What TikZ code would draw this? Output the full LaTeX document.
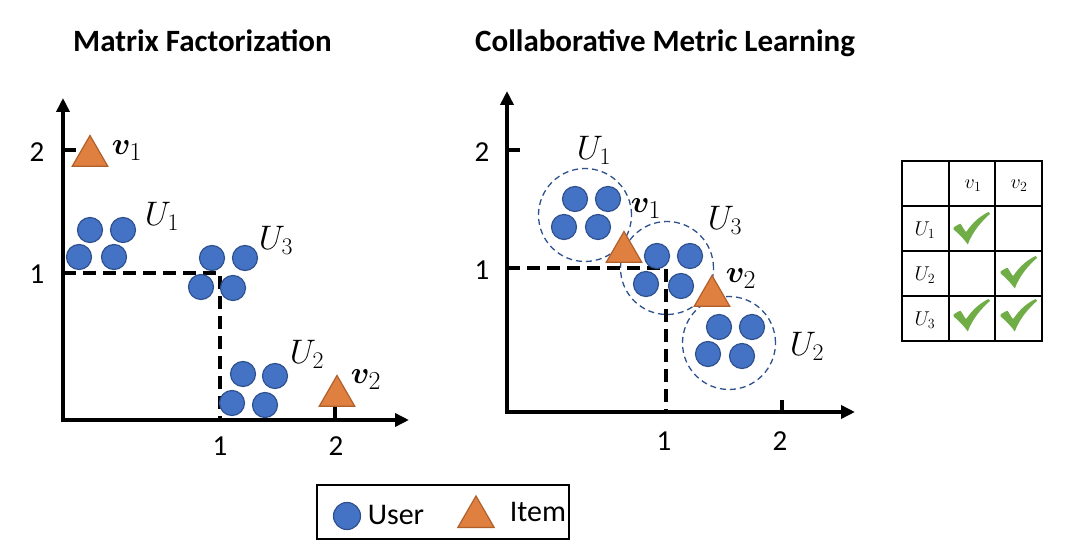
\RequirePackage{fix-cm}
\documentclass[tikz,border=0pt]{standalone}
\usepackage{amsmath}
\usepackage{bm}
\usepackage[no-math]{fontspec}
\setmainfont{Carlito}
\usetikzlibrary{arrows.meta,shapes.geometric}
\definecolor{userfill}{HTML}{4472C4}
\definecolor{userline}{HTML}{2F528F}
\definecolor{itemfill}{HTML}{E08040}
\definecolor{itemline}{HTML}{B0602A}
\definecolor{chkgreen}{HTML}{70AD47}
\tikzset{
  user/.style={circle, fill=userfill, draw=userline, line width=1.2pt, minimum size=25pt, inner sep=0pt},
  item/.style={regular polygon, regular polygon sides=3, fill=itemfill, draw=itemline, line width=1.2pt, minimum size=41pt, inner sep=0pt},
  axis/.style={line width=3.5pt, -{Triangle[length=14pt,width=13pt]}},
  tickmark/.style={line width=3.5pt},
  guide/.style={line width=3.5pt, dash pattern=on 13pt off 7pt},
  ring/.style={circle, draw=userline, line width=1.3pt, dash pattern=on 6pt off 4pt, minimum size=93pt, inner sep=0pt},
  ulab/.style={inner sep=0pt, font=\fontsize{34}{34}\selectfont},
  vlab/.style={inner sep=0pt, scale=1.25, font=\fontsize{24.88}{25}\selectfont},
  num/.style={inner sep=0pt, font=\fontsize{29}{29}\selectfont},
  title/.style={inner sep=0pt, anchor=base west, font=\fontsize{31}{31}\selectfont\bfseries},
  tlab/.style={inner sep=0pt, font=\fontsize{20}{20}\selectfont},
  grid/.style={line width=2.5pt},
  chk/.pic={
    \draw[white, line width=1.2pt, fill=chkgreen, line join=round]
      (0,15) .. controls (3,13) and (6,11) .. (8,11)
      -- (13,19) .. controls (19,10) and (27,3) .. (36,-1)
      -- (38,2) .. controls (29,10) and (20,20) .. (15,34)
      .. controls (10,27) and (4,21) .. (0,18) -- cycle;
  }
}
\begin{document}
\begin{tikzpicture}[x=1pt,y=-1pt]
\useasboundingbox (0,0) rectangle (1072,556);

% ---------- titles ----------
\node[title] (t1) at (73,52) {Matrix Factorization};
\node[title] (t2) at (475,52) {Collaborative Metric Learning};

% ---------- left plot ----------
\coordinate (oL) at (63,420);
\coordinate (yL) at (63,98);
\coordinate (xL) at (409,420);
\coordinate (y1L) at (63,273);
\coordinate (y2L) at (63,150);
\coordinate (y2Le) at (76,150);
\coordinate (pL) at (220,273);
\coordinate (x1L) at (220,420);
\coordinate (x2L) at (335,420);
\coordinate (x2Le) at (335,407);
\draw[guide] (y1L) -- (pL) -- (x1L);
\draw[axis] ([xshift=-1.75pt]oL) -- (xL);
\draw[axis] ([yshift=1.75pt]oL) -- (yL);
\draw[tickmark] (y2L) -- (y2Le);
\draw[tickmark] (x2L) -- (x2Le);
\node[num] (n2yL) at (37,152) {2};
\node[num] (n1yL) at (37,274) {1};
\node[num] (n1xL) at (220,446) {1};
\node[num] (n2xL) at (336,446) {2};

\node[user] (a1) at (90,230) {};
\node[user] (a2) at (123,230) {};
\node[user] (a3) at (79,257) {};
\node[user] (a4) at (114,257) {};
\node[user] (c1) at (212,258) {};
\node[user] (c2) at (245,258) {};
\node[user] (c3) at (201,287) {};
\node[user] (c4) at (233,288) {};
\node[user] (b1) at (243,374) {};
\node[user] (b2) at (275,376) {};
\node[user] (b3) at (232,403) {};
\node[user] (b4) at (265,405) {};
\node[item] (iv1L) at (90,156) {};
\node[item] (iv2L) at (337,396) {};

\node[ulab] (U1L) at (162,216) {$U_1$};
\node[ulab] (U3L) at (276,240) {$U_3$};
\node[ulab] (U2L) at (307,354) {$U_2$};
\node[vlab] (v1L) at (127,151) {$\bm{v}_1$};
\node[vlab] (v2L) at (366,380) {$\bm{v}_2$};

% ---------- right plot ----------
\coordinate (oR) at (507,412);
\coordinate (yR) at (507,91);
\coordinate (xR) at (855,412);
\coordinate (y1R) at (507,268);
\coordinate (y2R) at (507,150);
\coordinate (y2Re) at (520,150);
\coordinate (pR) at (666,268);
\coordinate (x1R) at (666,412);
\coordinate (x2R) at (782,412);
\coordinate (x2Re) at (782,400);
\node[ring] (r1) at (585,215) {};
\node[ring] (r3) at (667,268) {};
\node[ring] (r2) at (729,343) {};
\draw[guide] (y1R) -- (pR) -- (x1R);
\draw[axis] ([xshift=-1.75pt]oR) -- (xR);
\draw[axis] ([yshift=1.75pt]oR) -- (yR);
\draw[tickmark] (y2R) -- (y2Re);
\draw[tickmark] (x2R) -- (x2Re);
\node[num] (n2yR) at (482,152) {2};
\node[num] (n1yR) at (482,270) {1};
\node[num] (n1xR) at (664,441) {1};
\node[num] (n2xR) at (780,441) {2};

\node[user] (d1) at (575,199) {};
\node[user] (d2) at (608,199) {};
\node[user] (d3) at (564,227) {};
\node[user] (d4) at (598,227) {};
\node[user] (f1) at (657,256) {};
\node[user] (f2) at (690,256) {};
\node[user] (f3) at (646,284) {};
\node[user] (f4) at (681,286) {};
\node[user] (e1) at (719,327) {};
\node[user] (e2) at (752,327) {};
\node[user] (e3) at (708,354) {};
\node[user] (e4) at (742,356) {};
\node[item] (iv1R) at (624,252) {};
\node[item] (iv2R) at (712,296) {};

\node[ulab] (U1R) at (594,150) {$U_1$};
\node[ulab] (U3R) at (725,220) {$U_3$};
\node[ulab] (U2R) at (807,346) {$U_2$};
\node[vlab] (v1R) at (646,209) {$\bm{v}_1$};
\node[vlab] (v2R) at (741,279) {$\bm{v}_2$};

% ---------- table ----------
\draw[grid] (902,161) rectangle (1042,341);
\draw[grid] (949,161) -- (949,341);
\draw[grid] (995,161) -- (995,341);
\draw[grid] (902,206) -- (1042,206);
\draw[grid] (902,251) -- (1042,251);
\draw[grid] (902,296) -- (1042,296);
\node[tlab] (tv1) at (973,186) {$v_1$};
\node[tlab] (tv2) at (1019,186) {$v_2$};
\node[tlab] (tU1) at (925,230) {$U_1$};
\node[tlab] (tU2) at (925,275) {$U_2$};
\node[tlab] (tU3) at (925,320) {$U_3$};
\pic at (953,212) {chk};
\pic at (1000,256) {chk};
\pic at (953,299) {chk};
\pic at (1000,299) {chk};

% ---------- legend ----------
\node[draw, line width=1.8pt, minimum width=252pt, minimum height=54pt, inner sep=0pt] (legend) at (443,512) {};
\node[user, minimum size=27pt] (lu) at (347,516) {};
\node[inner sep=0pt, font=\fontsize{30}{30}\selectfont] (lut) at (396,515) {User};
\node[item, minimum size=42pt] (li) at (476,517) {};
\node[inner sep=0pt, font=\fontsize{30}{30}\selectfont] (lit) at (538,512) {Item};
\end{tikzpicture}
\end{document}
